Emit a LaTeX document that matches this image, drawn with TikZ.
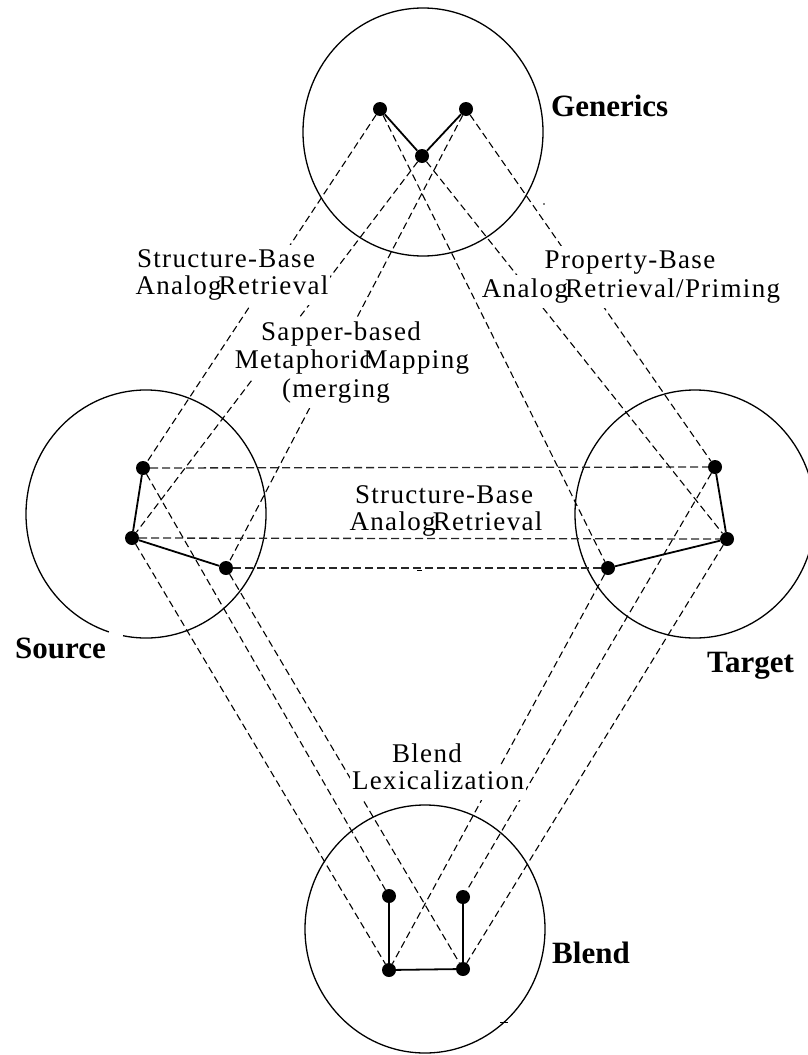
\documentclass[tikz,border=0pt]{standalone}
\usepackage{fontspec}
\setmainfont{Liberation Serif}
\newfontfamily\lblfamily[LetterSpace=5]{Liberation Serif}
\newcommand\lblfont{\lblfamily\fontsize{27}{32}\selectfont}
\newcommand\ttlfont{\bfseries\fontsize{31}{36}\selectfont}

\begin{document}
\begin{tikzpicture}[x=1pt,y=-1pt,
  space/.style={line width=1.3pt},
  dot/.style={circle, fill=black, inner sep=0pt, minimum size=14pt},
  link/.style={line width=1.8pt},
  map/.style={line width=1.1pt, dash pattern=on 7pt off 4pt},
  hmap/.style={line width=1.3pt, dash pattern=on 8pt off 4pt, black!85},
  lbl/.style={font=\lblfont, anchor=base, inner xsep=2pt, inner ysep=3pt,
              text height=19pt, text depth=8pt},
  mask/.style={lbl, fill=white},
  ttl/.style={font=\ttlfont, anchor=base west, inner sep=0pt}]
\useasboundingbox (0,0) rectangle (807,1055);

% the four spaces
\draw[space] (423,132) ellipse [x radius=120pt, y radius=124pt];
\draw[space] (146,514) ++(-101:120pt and 124pt)
  arc[start angle=-101, end angle=252, x radius=120pt, y radius=124pt];
\draw[space] (695,514) ellipse [x radius=120pt, y radius=124pt];
\draw[space] (425,929) ellipse [x radius=120pt, y radius=124pt];

% elements
\node[dot] (g1) at (380,109) {};
\node[dot] (g2) at (466,109) {};
\node[dot] (g3) at (422,156) {};
\node[dot] (s1) at (143,468) {};
\node[dot] (s2) at (132,538) {};
\node[dot] (s3) at (226,568) {};
\node[dot] (t1) at (715,467) {};
\node[dot] (t2) at (727,539) {};
\node[dot] (t3) at (608,568) {};
\node[dot] (b1) at (389,896) {};
\node[dot] (b2) at (463,897) {};
\node[dot] (b3) at (389,970) {};
\node[dot] (b4) at (463,969) {};

% cross-space mappings
\draw[map] (g1) -- (s1);
\draw[map] (g3) -- (s2);
\draw[map] (g2) -- (s3);
\draw[map] (g1) -- (t3);
\draw[map] (g3) -- (t2);
\draw[map] (g2) -- (t1);
\draw[hmap] (s1) -- (t1);
\draw[hmap] (s2) -- (t2);
\draw[hmap] (s3) -- (t3);
\draw[map] (s1) -- (b1);
\draw[map] (s2) -- (b3);
\draw[map] (s3) -- (b4);
\draw[map] (t3) -- (b3);
\draw[map] (t1) -- (b2);
\draw[map] (t2) -- (b4);

% stray marks
\fill (544,204) circle (0.8pt);
\draw[line width=0.8pt] (417,570) -- (422,570);
\draw[line width=0.8pt] (500,1022) -- (508,1022);

% process labels
\node[mask] (sbA) at (226,267) {Structure-Base};
\node[mask] (sbB) at (232,294) {Analog\kern-3pt Retrieval};
\node[mask] (spA) at (341,340) {Sapper-based};
\node[mask] (spB) at (352,368) {Metaphoric\kern-8pt Mapping};
\node[mask] (spC) at (336,397) {(merging};
\node[mask] (pbA) at (630,268) {Property-Base};
\node[mask] (pbB) at (631,297) {Analog\kern-3pt Retrieval/Priming};
\node[lbl] (mbA) at (444,503) {Structure-Base};
\node[lbl] (mbB) at (446,530) {Analog\kern-3pt Retrieval};
\node[mask] (blA) at (427,762) {Blend};
\node[mask] (blB) at (438,789) {Lexicalization};

% relations inside each space
\draw[link] (g1) -- (g3) -- (g2);
\draw[link] (s1) -- (s2) -- (s3);
\draw[link] (t1) -- (t2) -- (t3);
\draw[link] (b1) -- (b3) -- (b4) -- (b2);

% space names
\node[ttl] (genN) at (551,116) {Generics};
\node[ttl] (srcN) at (15,658) {Source};
\node[ttl] (tgtN) at (707,672) {Target};
\node[ttl] (blnN) at (552,963) {Blend};
\end{tikzpicture}
\end{document}
